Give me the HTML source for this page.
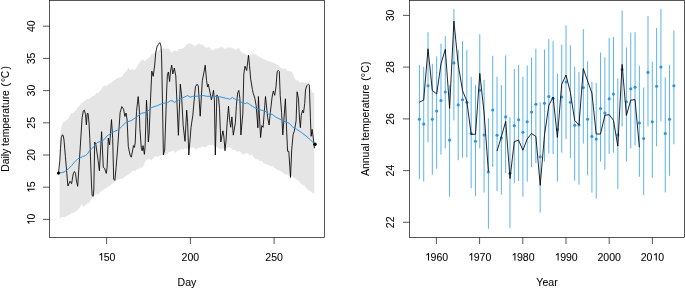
<!DOCTYPE html>
<html><head><meta charset="utf-8"><style>
html,body{margin:0;padding:0;background:#fff;width:685px;height:289px;overflow:hidden;font-family:"Liberation Sans", sans-serif}
</style></head><body>
<svg width="685" height="289" viewBox="0 0 685 289" style="position:absolute;left:0;top:0"><polygon points="59.7,139.0 61.4,126.5 63.0,122.2 64.7,122.1 66.4,120.0 68.1,119.1 69.7,115.6 71.4,113.1 73.1,112.9 74.8,111.2 76.4,109.8 78.1,106.7 79.8,105.6 81.5,103.0 83.1,102.6 84.8,100.4 86.5,99.5 88.2,99.1 89.8,98.6 91.5,97.1 93.2,95.7 94.9,95.5 96.5,92.7 98.2,93.0 99.9,90.8 101.6,88.7 103.2,86.5 104.9,85.6 106.6,85.9 108.3,83.9 109.9,83.5 111.6,82.5 113.3,80.8 115.0,80.0 116.6,78.4 118.3,77.8 120.0,77.4 121.7,76.9 123.3,74.8 125.0,72.6 126.7,70.6 128.4,67.7 130.0,70.1 131.7,69.2 133.4,69.4 135.1,70.1 136.7,67.3 138.4,64.0 140.1,62.0 141.8,59.5 143.4,60.0 145.1,61.6 146.8,58.9 148.5,58.3 150.2,56.6 151.8,53.7 153.5,53.7 155.2,51.8 156.9,51.6 158.5,50.5 160.2,49.1 161.9,49.0 163.6,47.7 165.2,49.0 166.9,48.2 168.6,48.5 170.3,51.0 171.9,53.0 173.6,50.5 175.3,50.6 177.0,51.6 178.6,48.9 180.3,48.9 182.0,48.4 183.7,48.0 185.3,46.4 187.0,44.2 188.7,43.2 190.4,43.4 192.0,43.7 193.7,45.5 195.4,45.9 197.1,44.5 198.7,42.9 200.4,44.5 202.1,44.6 203.8,45.9 205.4,47.3 207.1,48.0 208.8,47.0 210.5,48.8 212.1,50.6 213.8,49.7 215.5,48.5 217.2,48.5 218.8,47.4 220.5,47.4 222.2,47.0 223.9,48.3 225.5,49.0 227.2,47.6 228.9,47.4 230.6,47.5 232.2,47.9 233.9,48.8 235.6,50.3 237.3,48.8 238.9,47.8 240.6,51.3 242.3,52.5 244.0,53.3 245.6,54.6 247.3,55.0 249.0,55.2 250.7,55.0 252.3,54.6 254.0,53.0 255.7,54.4 257.4,55.4 259.0,56.6 260.7,57.6 262.4,58.3 264.1,59.6 265.7,59.6 267.4,61.2 269.1,61.0 270.8,61.8 272.4,62.6 274.1,62.9 275.8,64.1 277.5,64.8 279.1,66.1 280.8,68.1 282.5,68.4 284.2,68.7 285.8,68.8 287.5,71.1 289.2,71.2 290.9,71.2 292.5,72.5 294.2,77.0 295.9,80.4 297.6,80.3 299.2,82.0 300.9,82.6 302.6,81.9 304.3,82.4 305.9,82.3 307.6,83.9 309.3,86.4 311.0,88.7 312.6,92.5 314.2,93.6 314.2,194.0 312.6,193.3 311.0,191.5 309.3,190.7 307.6,189.5 305.9,187.4 304.3,185.5 302.6,184.9 300.9,183.2 299.2,181.5 297.6,179.9 295.9,179.5 294.2,178.1 292.5,176.6 290.9,176.1 289.2,176.5 287.5,174.6 285.8,174.4 284.2,174.0 282.5,172.6 280.8,171.2 279.1,170.0 277.5,170.4 275.8,168.4 274.1,167.6 272.4,165.6 270.8,166.4 269.1,165.0 267.4,165.1 265.7,163.5 264.1,163.9 262.4,161.4 260.7,160.7 259.0,160.4 257.4,159.1 255.7,159.4 254.0,157.4 252.3,154.6 250.7,155.5 249.0,154.6 247.3,152.9 245.6,153.2 244.0,154.4 242.3,153.9 240.6,151.9 238.9,151.3 237.3,151.8 235.6,150.4 233.9,149.8 232.2,150.1 230.6,147.7 228.9,147.0 227.2,148.0 225.5,147.9 223.9,148.9 222.2,148.8 220.5,149.2 218.8,148.3 217.2,147.3 215.5,147.3 213.8,145.5 212.1,144.4 210.5,145.6 208.8,144.6 207.1,146.3 205.4,147.6 203.8,146.9 202.1,146.1 200.4,147.9 198.7,147.6 197.1,149.0 195.4,149.4 193.7,147.5 192.0,147.5 190.4,148.6 188.7,148.3 187.0,149.3 185.3,148.2 183.7,149.4 182.0,148.8 180.3,149.8 178.6,150.5 177.0,150.9 175.3,152.9 173.6,151.1 171.9,151.1 170.3,151.8 168.6,152.2 166.9,154.3 165.2,155.1 163.6,154.4 161.9,154.9 160.2,155.6 158.5,156.4 156.9,156.7 155.2,156.3 153.5,157.7 151.8,159.9 150.2,159.6 148.5,159.0 146.8,159.8 145.1,161.6 143.4,166.0 141.8,167.4 140.1,167.4 138.4,169.2 136.7,169.4 135.1,170.9 133.4,170.6 131.7,172.0 130.0,173.2 128.4,174.5 126.7,175.8 125.0,176.8 123.3,177.9 121.7,179.0 120.0,178.7 118.3,179.5 116.6,180.5 115.0,181.4 113.3,182.9 111.6,183.9 109.9,185.8 108.3,186.4 106.6,188.1 104.9,188.6 103.2,189.9 101.6,191.1 99.9,192.3 98.2,194.2 96.5,194.3 94.9,195.1 93.2,196.6 91.5,199.0 89.8,201.8 88.2,203.7 86.5,203.5 84.8,206.1 83.1,206.7 81.5,203.8 79.8,208.0 78.1,209.2 76.4,211.2 74.8,212.1 73.1,213.0 71.4,213.2 69.7,214.7 68.1,215.3 66.4,215.9 64.7,217.4 63.0,217.1 61.4,217.3 59.7,219.0" fill="#e5e5e5" stroke="none"/><polyline points="58.5,173.1 59.8,160.8 60.5,148.3 61.3,137.5 62.3,134.9 63.2,135.4 64.0,140.0 65.4,156.6 66.8,173.2 67.9,186.0 70.0,181.2 71.6,183.7 73.2,174.0 74.4,171.5 75.5,173.2 76.3,180.0 77.7,186.3 79.8,154.0 82.1,117.8 83.3,110.9 84.3,110.1 85.5,114.4 86.4,124.8 87.2,113.5 88.1,113.5 89.0,123.0 89.8,138.6 91.5,185.0 92.2,195.5 93.2,196.4 93.8,190.0 94.7,142.1 95.9,144.7 98.1,160.4 99.4,170.8 101.6,131.7 103.3,167.3 104.5,168.2 106.3,173.4 107.1,167.3 108.3,138.0 109.6,145.0 111.5,119.6 112.7,138.6 113.7,179.4 114.9,180.3 116.1,167.3 117.5,150.0 120.1,112.7 121.8,106.6 123.6,109.2 124.9,116.5 126.1,113.0 127.1,120.0 128.3,146.5 130.1,155.1 131.3,157.2 132.7,150.0 133.5,145.6 134.4,147.4 135.2,143.0 136.5,111.3 138.2,96.6 139.2,107.8 139.9,128.6 141.3,148.2 142.2,150.8 143.0,145.6 144.4,154.3 145.1,146.5 146.5,100.1 147.4,116.5 148.3,142.0 149.1,134.4 150.0,111.3 151.8,71.1 153.2,76.3 154.6,66.0 155.8,52.1 157.0,46.9 158.4,44.3 159.8,42.6 161.0,46.1 161.5,53.8 161.8,66.0 163.4,154.8 164.7,150.0 166.7,90.0 167.4,74.6 168.4,72.0 169.6,81.5 170.5,71.1 171.7,65.1 172.8,74.0 174.3,68.0 175.8,76.0 178.4,135.3 180.3,84.2 181.5,94.6 183.2,125.8 185.0,141.3 186.7,110.2 187.6,122.3 188.8,155.0 191.0,127.5 192.8,115.4 195.4,86.8 197.1,84.2 198.3,86.0 200.2,116.2 202.3,80.8 204.0,72.1 205.2,65.2 206.6,80.8 207.5,86.8 208.3,84.2 210.1,92.9 211.4,99.8 212.7,94.6 213.5,90.3 214.4,99.8 215.3,155.0 216.9,94.9 218.6,98.4 219.5,108.8 220.8,142.0 222.9,130.8 223.8,136.0 225.0,150.7 226.0,141.1 227.2,122.1 228.5,106.2 229.5,119.1 230.7,127.3 231.9,116.9 233.3,135.1 235.4,122.6 236.4,105.3 237.6,93.2 238.8,90.4 239.9,98.4 240.9,135.0 242.8,114.0 243.8,74.0 245.0,66.2 246.7,70.5 248.5,55.3 249.5,65.3 250.7,79.1 252.4,89.5 253.2,93.2 254.9,98.4 256.1,105.3 257.2,119.1 257.9,127.8 258.4,96.5 259.3,114.0 260.6,137.5 261.8,125.6 263.1,127.3 264.8,105.3 265.5,96.5 267.7,117.8 269.1,125.0 270.3,112.6 272.1,97.0 273.3,91.0 274.7,95.3 276.0,86.7 277.2,71.4 278.4,70.5 279.3,71.4 280.2,95.3 281.6,112.6 282.8,134.9 285.4,98.8 286.6,130.0 287.6,151.3 288.8,151.3 290.5,177.4 291.7,150.0 293.1,134.6 294.3,131.1 296.1,120.8 297.1,91.8 298.5,98.8 299.5,119.0 300.4,127.7 301.2,115.6 302.5,110.4 303.5,113.0 304.7,103.5 305.5,90.0 306.7,85.8 308.4,84.1 309.3,84.9 310.4,117.3 311.1,136.3 312.1,129.4 313.4,138.9 314.4,148.3" fill="none" stroke="#000" stroke-width="0.85" stroke-linejoin="round"/><polyline points="58.5,173.2 61.2,172.5 64.0,172.1 66.1,170.5 68.9,168.4 71.6,165.6 74.4,162.2 77.9,158.7 79.9,158.0 82.7,156.6 85.5,155.5 87.5,153.9 89.6,150.4 92.4,148.3 95.2,144.8 97.9,142.1 100.7,141.6 103.5,140.2 107.1,135.8 112.3,132.5 117.5,130.0 121.0,127.4 126.0,122.2 130.9,120.8 136.1,117.4 141.3,113.4 146.5,112.2 151.7,107.5 156.9,105.8 162.1,103.5 167.3,102.7 170.7,100.6 172.0,100.7 174.6,102.4 177.2,100.7 180.7,98.9 184.1,97.2 187.6,95.5 190.2,97.2 192.8,96.3 196.2,96.3 199.7,96.0 203.1,95.5 206.6,96.3 211.8,96.3 216.0,96.3 219.5,96.7 222.9,97.5 226.4,98.4 229.8,99.2 232.4,97.5 235.0,99.2 238.5,100.1 242.0,102.7 245.4,103.6 247.1,102.7 249.7,104.4 252.3,106.2 255.8,108.4 259.3,109.6 262.7,110.5 266.0,111.7 268.6,114.3 272.1,114.3 275.5,116.9 279.0,118.7 282.4,120.4 285.9,122.1 289.4,123.3 292.8,127.3 296.5,129.2 301.3,132.4 306.0,136.0 310.7,140.0 314.8,144.4" fill="none" stroke="#2b93e0" stroke-width="1.0" stroke-linejoin="round"/><circle cx="58.5" cy="173.1" r="1.6" fill="#000"/><circle cx="315.0" cy="144.3" r="1.7" fill="#000"/><rect x="49.5" y="0.5" width="275.0" height="237.0" fill="none" stroke="#000" stroke-width="0.66"/><path d="M43.0,219.4H49.5 M43.0,187.2H49.5 M43.0,155.0H49.5 M43.0,122.8H49.5 M43.0,90.6H49.5 M43.0,58.4H49.5 M43.0,26.2H49.5 M106.6,237.5V244.0 M190.4,237.5V244.0 M274.1,237.5V244.0 M403.0,222.3H409.5 M403.0,170.6H409.5 M403.0,118.9H409.5 M403.0,67.1H409.5 M403.0,15.4H409.5 M436.4,237.5V244.0 M479.6,237.5V244.0 M522.8,237.5V244.0 M566.0,237.5V244.0 M609.2,237.5V244.0 M652.4,237.5V244.0" stroke="#000" stroke-width="0.66" fill="none"/><path d="M419.40,65.0V179.1 M423.71,66.8V181.6 M428.03,32.2V142.2 M432.34,63.9V174.8 M436.65,56.5V168.7 M440.96,43.6V154.7 M445.28,35.9V148.4 M449.59,85.1V196.7 M453.90,9.1V120.4 M458.22,49.9V160.3 M462.53,41.1V157.8 M466.84,49.9V157.4 M471.16,76.8V188.3 M475.47,85.1V196.2 M479.78,34.3V148.4 M484.09,79.9V192.6 M488.41,118.3V228.8 M492.72,55.7V167.1 M497.03,76.8V191.0 M501.35,85.1V194.7 M505.66,55.3V172.9 M509.97,117.3V227.8 M514.29,69.1V183.3 M518.60,64.8V181.0 M522.91,76.8V196.6 M527.22,65.4V181.6 M531.54,57.5V167.3 M535.85,48.8V163.0 M540.16,102.4V212.5 M544.48,49.4V161.5 M548.79,39.1V153.6 M553.10,40.9V154.0 M557.42,73.7V181.6 M561.73,44.7V152.6 M566.04,25.3V139.1 M570.36,45.3V158.2 M574.67,66.8V180.6 M578.98,72.0V184.7 M583.29,29.1V143.7 M587.61,61.2V175.4 M591.92,82.0V192.6 M596.23,83.0V198.7 M600.55,52.6V161.5 M604.86,57.3V169.6 M609.17,38.0V154.0 M613.48,37.0V152.6 M617.80,78.3V188.9 M622.11,10.4V126.6 M626.42,47.4V161.5 M630.74,32.6V148.4 M635.05,32.2V145.3 M639.36,65.8V176.8 M643.68,87.6V195.1 M647.99,16.0V126.6 M652.30,61.6V177.9 M656.62,28.0V146.4 M660.93,8.9V121.4 M665.24,77.4V192.4 M669.55,64.8V175.8 M673.87,30.3V144.3" stroke="#5cb3ec" stroke-width="1" fill="none"/><circle cx="419.40" cy="119.3" r="1.55" fill="#2b93e0"/><circle cx="423.71" cy="124.1" r="1.55" fill="#2b93e0"/><circle cx="428.03" cy="85.7" r="1.55" fill="#2b93e0"/><circle cx="432.34" cy="119.3" r="1.55" fill="#2b93e0"/><circle cx="436.65" cy="111.0" r="1.55" fill="#2b93e0"/><circle cx="440.96" cy="100.5" r="1.55" fill="#2b93e0"/><circle cx="445.28" cy="92.0" r="1.55" fill="#2b93e0"/><circle cx="449.59" cy="140.1" r="1.55" fill="#2b93e0"/><circle cx="453.90" cy="62.9" r="1.55" fill="#2b93e0"/><circle cx="458.22" cy="104.9" r="1.55" fill="#2b93e0"/><circle cx="462.53" cy="99.7" r="1.55" fill="#2b93e0"/><circle cx="466.84" cy="102.3" r="1.55" fill="#2b93e0"/><circle cx="471.16" cy="133.5" r="1.55" fill="#2b93e0"/><circle cx="475.47" cy="141.2" r="1.55" fill="#2b93e0"/><circle cx="479.78" cy="90.2" r="1.55" fill="#2b93e0"/><circle cx="484.09" cy="135.0" r="1.55" fill="#2b93e0"/><circle cx="488.41" cy="172.0" r="1.55" fill="#2b93e0"/><circle cx="492.72" cy="110.0" r="1.55" fill="#2b93e0"/><circle cx="497.03" cy="135.2" r="1.55" fill="#2b93e0"/><circle cx="501.35" cy="137.9" r="1.55" fill="#2b93e0"/><circle cx="505.66" cy="116.9" r="1.55" fill="#2b93e0"/><circle cx="509.97" cy="173.3" r="1.55" fill="#2b93e0"/><circle cx="514.29" cy="125.6" r="1.55" fill="#2b93e0"/><circle cx="518.60" cy="119.8" r="1.55" fill="#2b93e0"/><circle cx="522.91" cy="132.2" r="1.55" fill="#2b93e0"/><circle cx="527.22" cy="121.8" r="1.55" fill="#2b93e0"/><circle cx="531.54" cy="112.1" r="1.55" fill="#2b93e0"/><circle cx="535.85" cy="104.2" r="1.55" fill="#2b93e0"/><circle cx="540.16" cy="156.7" r="1.55" fill="#2b93e0"/><circle cx="544.48" cy="103.2" r="1.55" fill="#2b93e0"/><circle cx="548.79" cy="96.5" r="1.55" fill="#2b93e0"/><circle cx="553.10" cy="98.3" r="1.55" fill="#2b93e0"/><circle cx="557.42" cy="129.4" r="1.55" fill="#2b93e0"/><circle cx="561.73" cy="97.0" r="1.55" fill="#2b93e0"/><circle cx="566.04" cy="82.0" r="1.55" fill="#2b93e0"/><circle cx="570.36" cy="102.3" r="1.55" fill="#2b93e0"/><circle cx="574.67" cy="125.2" r="1.55" fill="#2b93e0"/><circle cx="578.98" cy="125.0" r="1.55" fill="#2b93e0"/><circle cx="583.29" cy="87.6" r="1.55" fill="#2b93e0"/><circle cx="587.61" cy="119.3" r="1.55" fill="#2b93e0"/><circle cx="591.92" cy="136.4" r="1.55" fill="#2b93e0"/><circle cx="596.23" cy="139.1" r="1.55" fill="#2b93e0"/><circle cx="600.55" cy="108.6" r="1.55" fill="#2b93e0"/><circle cx="604.86" cy="113.0" r="1.55" fill="#2b93e0"/><circle cx="609.17" cy="98.8" r="1.55" fill="#2b93e0"/><circle cx="613.48" cy="94.1" r="1.55" fill="#2b93e0"/><circle cx="617.80" cy="134.9" r="1.55" fill="#2b93e0"/><circle cx="622.11" cy="69.5" r="1.55" fill="#2b93e0"/><circle cx="626.42" cy="101.7" r="1.55" fill="#2b93e0"/><circle cx="630.74" cy="88.7" r="1.55" fill="#2b93e0"/><circle cx="635.05" cy="87.2" r="1.55" fill="#2b93e0"/><circle cx="639.36" cy="122.9" r="1.55" fill="#2b93e0"/><circle cx="643.68" cy="138.5" r="1.55" fill="#2b93e0"/><circle cx="647.99" cy="72.4" r="1.55" fill="#2b93e0"/><circle cx="652.30" cy="121.8" r="1.55" fill="#2b93e0"/><circle cx="656.62" cy="86.2" r="1.55" fill="#2b93e0"/><circle cx="660.93" cy="67.0" r="1.55" fill="#2b93e0"/><circle cx="665.24" cy="133.5" r="1.55" fill="#2b93e0"/><circle cx="669.55" cy="119.3" r="1.55" fill="#2b93e0"/><circle cx="673.87" cy="85.7" r="1.55" fill="#2b93e0"/><polyline points="419.4,102.2 423.7,100.0 428.0,48.8 432.3,90.5 436.7,93.9 441.0,63.8 445.3,49.3 449.6,108.4 453.9,21.1 458.2,64.5 462.5,90.5 466.8,101.2 471.2,134.4 475.5,134.2 479.8,73.4 484.1,113.0 488.4,171.5" fill="none" stroke="#000" stroke-width="0.85" stroke-linejoin="round"/><polyline points="497.0,151.1 501.3,137.0 505.7,121.4 510.0,178.5 514.3,141.6 518.6,140.2 522.9,150.2 527.2,139.0 531.5,133.4 535.9,136.5 540.2,185.3 544.5,134.8 548.8,105.5 553.1,97.0 557.4,137.5 561.7,84.3 566.0,75.0 570.4,92.5 574.7,120.5 579.0,124.9 583.3,68.6 587.6,81.0 591.9,93.0 596.2,134.0 600.5,134.0 604.9,115.2 609.2,114.7 613.5,120.4 617.8,146.1 622.1,64.4 626.4,115.5 630.7,100.2 635.0,99.6 639.4,147.2" fill="none" stroke="#000" stroke-width="0.85" stroke-linejoin="round"/><rect x="409.5" y="0.5" width="275.0" height="237.0" fill="none" stroke="#000" stroke-width="0.66"/><g font-family='"Liberation Sans", sans-serif' font-size="11" fill="#000" stroke="#000" stroke-width="0.06" style="filter:grayscale(1)"><g transform="translate(34.7,219.4) rotate(-90) scale(0.96,1)"><path transform="translate(-6.118,0) scale(0.005371,-0.005371)" d="M843,0L663,0L663,1130L303,935L303,1110L720,1409L843,1409Z" stroke-width="11.2"/><text x="0.000" y="0">0</text></g><g transform="translate(34.7,187.2) rotate(-90) scale(0.96,1)"><path transform="translate(-6.118,0) scale(0.005371,-0.005371)" d="M843,0L663,0L663,1130L303,935L303,1110L720,1409L843,1409Z" stroke-width="11.2"/><text x="0.000" y="0">5</text></g><g transform="translate(34.7,155.0) rotate(-90) scale(0.96,1)"><text x="-6.118" y="0">2</text><text x="0.000" y="0">0</text></g><g transform="translate(34.7,122.8) rotate(-90) scale(0.96,1)"><text x="-6.118" y="0">2</text><text x="0.000" y="0">5</text></g><g transform="translate(34.7,90.6) rotate(-90) scale(0.96,1)"><text x="-6.118" y="0">3</text><text x="0.000" y="0">0</text></g><g transform="translate(34.7,58.4) rotate(-90) scale(0.96,1)"><text x="-6.118" y="0">3</text><text x="0.000" y="0">5</text></g><g transform="translate(34.7,26.2) rotate(-90) scale(0.96,1)"><text x="-6.118" y="0">4</text><text x="0.000" y="0">0</text></g><g transform="translate(106.6,260.6) scale(0.96,1)"><path transform="translate(-9.176,0) scale(0.005371,-0.005371)" d="M843,0L663,0L663,1130L303,935L303,1110L720,1409L843,1409Z" stroke-width="11.2"/><text x="-3.059" y="0">5</text><text x="3.059" y="0">0</text></g><g transform="translate(190.4,260.6) scale(0.96,1)"><text x="-9.176" y="0">2</text><text x="-3.059" y="0">0</text><text x="3.059" y="0">0</text></g><g transform="translate(274.1,260.6) scale(0.96,1)"><text x="-9.176" y="0">2</text><text x="-3.059" y="0">5</text><text x="3.059" y="0">0</text></g><g transform="translate(394.4,222.3) rotate(-90) scale(0.96,1)"><text x="-6.118" y="0">2</text><text x="0.000" y="0">2</text></g><g transform="translate(394.4,170.6) rotate(-90) scale(0.96,1)"><text x="-6.118" y="0">2</text><text x="0.000" y="0">4</text></g><g transform="translate(394.4,118.9) rotate(-90) scale(0.96,1)"><text x="-6.118" y="0">2</text><text x="0.000" y="0">6</text></g><g transform="translate(394.4,67.1) rotate(-90) scale(0.96,1)"><text x="-6.118" y="0">2</text><text x="0.000" y="0">8</text></g><g transform="translate(394.4,15.4) rotate(-90) scale(0.96,1)"><text x="-6.118" y="0">3</text><text x="0.000" y="0">0</text></g><g transform="translate(436.4,260.6) scale(0.96,1)"><path transform="translate(-12.235,0) scale(0.005371,-0.005371)" d="M843,0L663,0L663,1130L303,935L303,1110L720,1409L843,1409Z" stroke-width="11.2"/><text x="-6.118" y="0">9</text><text x="0.000" y="0">6</text><text x="6.118" y="0">0</text></g><g transform="translate(479.6,260.6) scale(0.96,1)"><path transform="translate(-12.235,0) scale(0.005371,-0.005371)" d="M843,0L663,0L663,1130L303,935L303,1110L720,1409L843,1409Z" stroke-width="11.2"/><text x="-6.118" y="0">9</text><text x="0.000" y="0">7</text><text x="6.118" y="0">0</text></g><g transform="translate(522.8,260.6) scale(0.96,1)"><path transform="translate(-12.235,0) scale(0.005371,-0.005371)" d="M843,0L663,0L663,1130L303,935L303,1110L720,1409L843,1409Z" stroke-width="11.2"/><text x="-6.118" y="0">9</text><text x="0.000" y="0">8</text><text x="6.118" y="0">0</text></g><g transform="translate(566.0,260.6) scale(0.96,1)"><path transform="translate(-12.235,0) scale(0.005371,-0.005371)" d="M843,0L663,0L663,1130L303,935L303,1110L720,1409L843,1409Z" stroke-width="11.2"/><text x="-6.118" y="0">9</text><text x="0.000" y="0">9</text><text x="6.118" y="0">0</text></g><g transform="translate(609.2,260.6) scale(0.96,1)"><text x="-12.235" y="0">2</text><text x="-6.118" y="0">0</text><text x="0.000" y="0">0</text><text x="6.118" y="0">0</text></g><g transform="translate(652.4,260.6) scale(0.96,1)"><text x="-12.235" y="0">2</text><text x="-6.118" y="0">0</text><path transform="translate(0.000,0) scale(0.005371,-0.005371)" d="M843,0L663,0L663,1130L303,935L303,1110L720,1409L843,1409Z" stroke-width="11.2"/><text x="6.118" y="0">0</text></g><text transform="translate(187,285.6) scale(0.96,1)" text-anchor="middle">Day</text><text transform="translate(547,285.6) scale(0.96,1)" text-anchor="middle">Year</text><text transform="translate(9.0,171.85) rotate(-90) scale(0.9424,1)">Daily temperature</text><text transform="translate(9.0,86.47) rotate(-90) scale(0.9424,1)">(</text><text transform="translate(9.0,82.04) rotate(-90) scale(0.9424,1)">°</text><text transform="translate(9.0,78.29) rotate(-90) scale(0.9424,1)">C</text><text transform="translate(9.0,69.61) rotate(-90) scale(0.9424,1)">)</text><text transform="translate(369.2,175.92) rotate(-90) scale(0.947,1)">Annual temperature</text><text transform="translate(369.2,80.63) rotate(-90) scale(0.947,1)">(</text><text transform="translate(369.2,77.18) rotate(-90) scale(0.947,1)">°</text><text transform="translate(369.2,72.73) rotate(-90) scale(0.947,1)">C</text><text transform="translate(369.2,64.94) rotate(-90) scale(0.947,1)">)</text></g></svg>
</body></html>
